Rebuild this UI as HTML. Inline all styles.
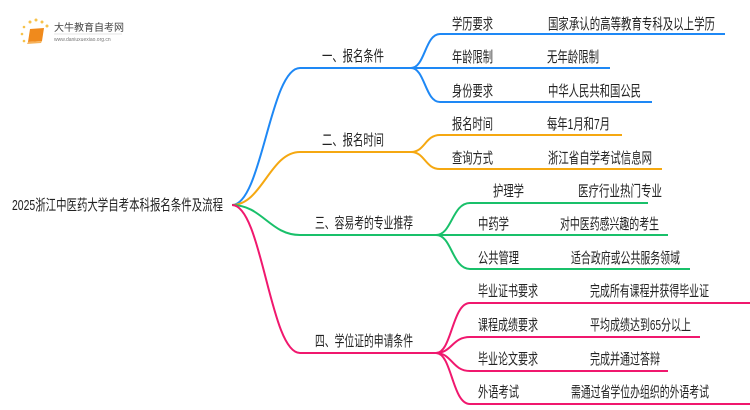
<!DOCTYPE html>
<html><head><meta charset="utf-8"><style>
html,body{margin:0;padding:0;background:#fff;width:750px;height:410px;overflow:hidden}
svg text{font-family:"Liberation Sans","Noto Sans CJK SC",sans-serif;font-size:15px;fill:#222}
</style></head><body>
<svg width="750" height="410" viewBox="0 0 750 410" xmlns="http://www.w3.org/2000/svg">
<g>
<circle cx="30" cy="22" r="1.5" fill="#f7c24a"/><circle cx="36" cy="20" r="1.5" fill="#f7c24a"/><circle cx="42" cy="22" r="1.5" fill="#f7c24a"/><circle cx="47" cy="26" r="1.5" fill="#f7c24a"/><circle cx="24" cy="27" r="1.3" fill="#f7c24a"/><circle cx="22" cy="34" r="1.3" fill="#f7c24a"/><circle cx="24" cy="41" r="1.3" fill="#f7c24a"/>
<path d="M30 29 L44 28 L42 41 L28 42 Z" fill="#f08a1c"/>
<path d="M28 42 L42 41 L41 43 L27 44 Z" fill="#f6b25a"/>
<text x="54" y="31" style="font-size:10px;fill:#444">大牛教育自考网</text>
<line x1="54" y1="34" x2="122" y2="34" stroke="#ccc" stroke-width="0.5"/>
<text x="54" y="41" style="font-size:5px;fill:#777">www.daniuxuexiao.org.cn</text>
</g>
<g fill="none" stroke-width="2">
<path d="M232 205 C262 205 270 68 300 68 L415 68" stroke="#1e88f5"/>
<path d="M232 205 C262 205 270 152 300 152 L415 152" stroke="#f5a811"/>
<path d="M232 205 C262 205 270 235 300 235 L440 235" stroke="#19c06a"/>
<path d="M232 205 C262 205 270 353 300 353 L440 353" stroke="#f0186e"/>
<path d="M411 68 C425 68 425 34 440 34 L725 34" stroke="#1e88f5"/>
<path d="M411 68 L610 68" stroke="#1e88f5"/>
<path d="M411 68 C425 68 425 102 440 102 L652 102" stroke="#1e88f5"/>
<path d="M411 152 C425 152 425 135 440 135 L622 135" stroke="#f5a811"/>
<path d="M411 152 C425 152 425 169 440 169 L662 169" stroke="#f5a811"/>
<path d="M436 235 C452 235 452 203 470 203 L648 203" stroke="#19c06a"/>
<path d="M436 235 L668 235" stroke="#19c06a"/>
<path d="M436 235 C452 235 452 269 470 269 L690 269" stroke="#19c06a"/>
<path d="M436 353 C452 353 452 303 470 303 L750 303" stroke="#f0186e"/>
<path d="M436 353 C452 353 452 337 470 337 L700 337" stroke="#f0186e"/>
<path d="M436 353 C452 353 452 371 470 371 L668 371" stroke="#f0186e"/>
<path d="M436 353 C452 353 452 404 470 404 L750 404" stroke="#f0186e"/>
</g>
<g>
<text x="12" y="210" textLength="211" lengthAdjust="spacingAndGlyphs">2025浙江中医药大学自考本科报名条件及流程</text>
<text x="322" y="61" textLength="62" lengthAdjust="spacingAndGlyphs">一、报名条件</text>
<text x="322" y="145" textLength="62" lengthAdjust="spacingAndGlyphs">二、报名时间</text>
<text x="315" y="228" textLength="98" lengthAdjust="spacingAndGlyphs">三、容易考的专业推荐</text>
<text x="315" y="346" textLength="98" lengthAdjust="spacingAndGlyphs">四、学位证的申请条件</text>

<text x="452" y="29" textLength="41" lengthAdjust="spacingAndGlyphs">学历要求</text><text x="548" y="29" textLength="167" lengthAdjust="spacingAndGlyphs">国家承认的高等教育专科及以上学历</text>
<text x="452" y="62" textLength="41" lengthAdjust="spacingAndGlyphs">年龄限制</text><text x="547" y="62" textLength="52" lengthAdjust="spacingAndGlyphs">无年龄限制</text>
<text x="452" y="96" textLength="41" lengthAdjust="spacingAndGlyphs">身份要求</text><text x="548" y="96" textLength="93" lengthAdjust="spacingAndGlyphs">中华人民共和国公民</text>
<text x="452" y="129" textLength="41" lengthAdjust="spacingAndGlyphs">报名时间</text><text x="547" y="129" textLength="63" lengthAdjust="spacingAndGlyphs">每年1月和7月</text>
<text x="452" y="163" textLength="41" lengthAdjust="spacingAndGlyphs">查询方式</text><text x="548" y="163" textLength="104" lengthAdjust="spacingAndGlyphs">浙江省自学考试信息网</text>

<text x="493" y="196" textLength="31" lengthAdjust="spacingAndGlyphs">护理学</text><text x="578" y="196" textLength="84" lengthAdjust="spacingAndGlyphs">医疗行业热门专业</text>
<text x="478" y="229" textLength="31" lengthAdjust="spacingAndGlyphs">中药学</text><text x="560" y="229" textLength="99" lengthAdjust="spacingAndGlyphs">对中医药感兴趣的考生</text>
<text x="478" y="263" textLength="41" lengthAdjust="spacingAndGlyphs">公共管理</text><text x="571" y="263" textLength="109" lengthAdjust="spacingAndGlyphs">适合政府或公共服务领域</text>

<text x="478" y="296" textLength="60" lengthAdjust="spacingAndGlyphs">毕业证书要求</text><text x="590" y="296" textLength="119" lengthAdjust="spacingAndGlyphs">完成所有课程并获得毕业证</text>
<text x="478" y="330" textLength="60" lengthAdjust="spacingAndGlyphs">课程成绩要求</text><text x="590" y="330" textLength="101" lengthAdjust="spacingAndGlyphs">平均成绩达到65分以上</text>
<text x="478" y="364" textLength="60" lengthAdjust="spacingAndGlyphs">毕业论文要求</text><text x="590" y="364" textLength="70" lengthAdjust="spacingAndGlyphs">完成并通过答辩</text>
<text x="478" y="397" textLength="41" lengthAdjust="spacingAndGlyphs">外语考试</text><text x="571" y="397" textLength="138" lengthAdjust="spacingAndGlyphs">需通过省学位办组织的外语考试</text>
</g>
</svg>
</body></html>
